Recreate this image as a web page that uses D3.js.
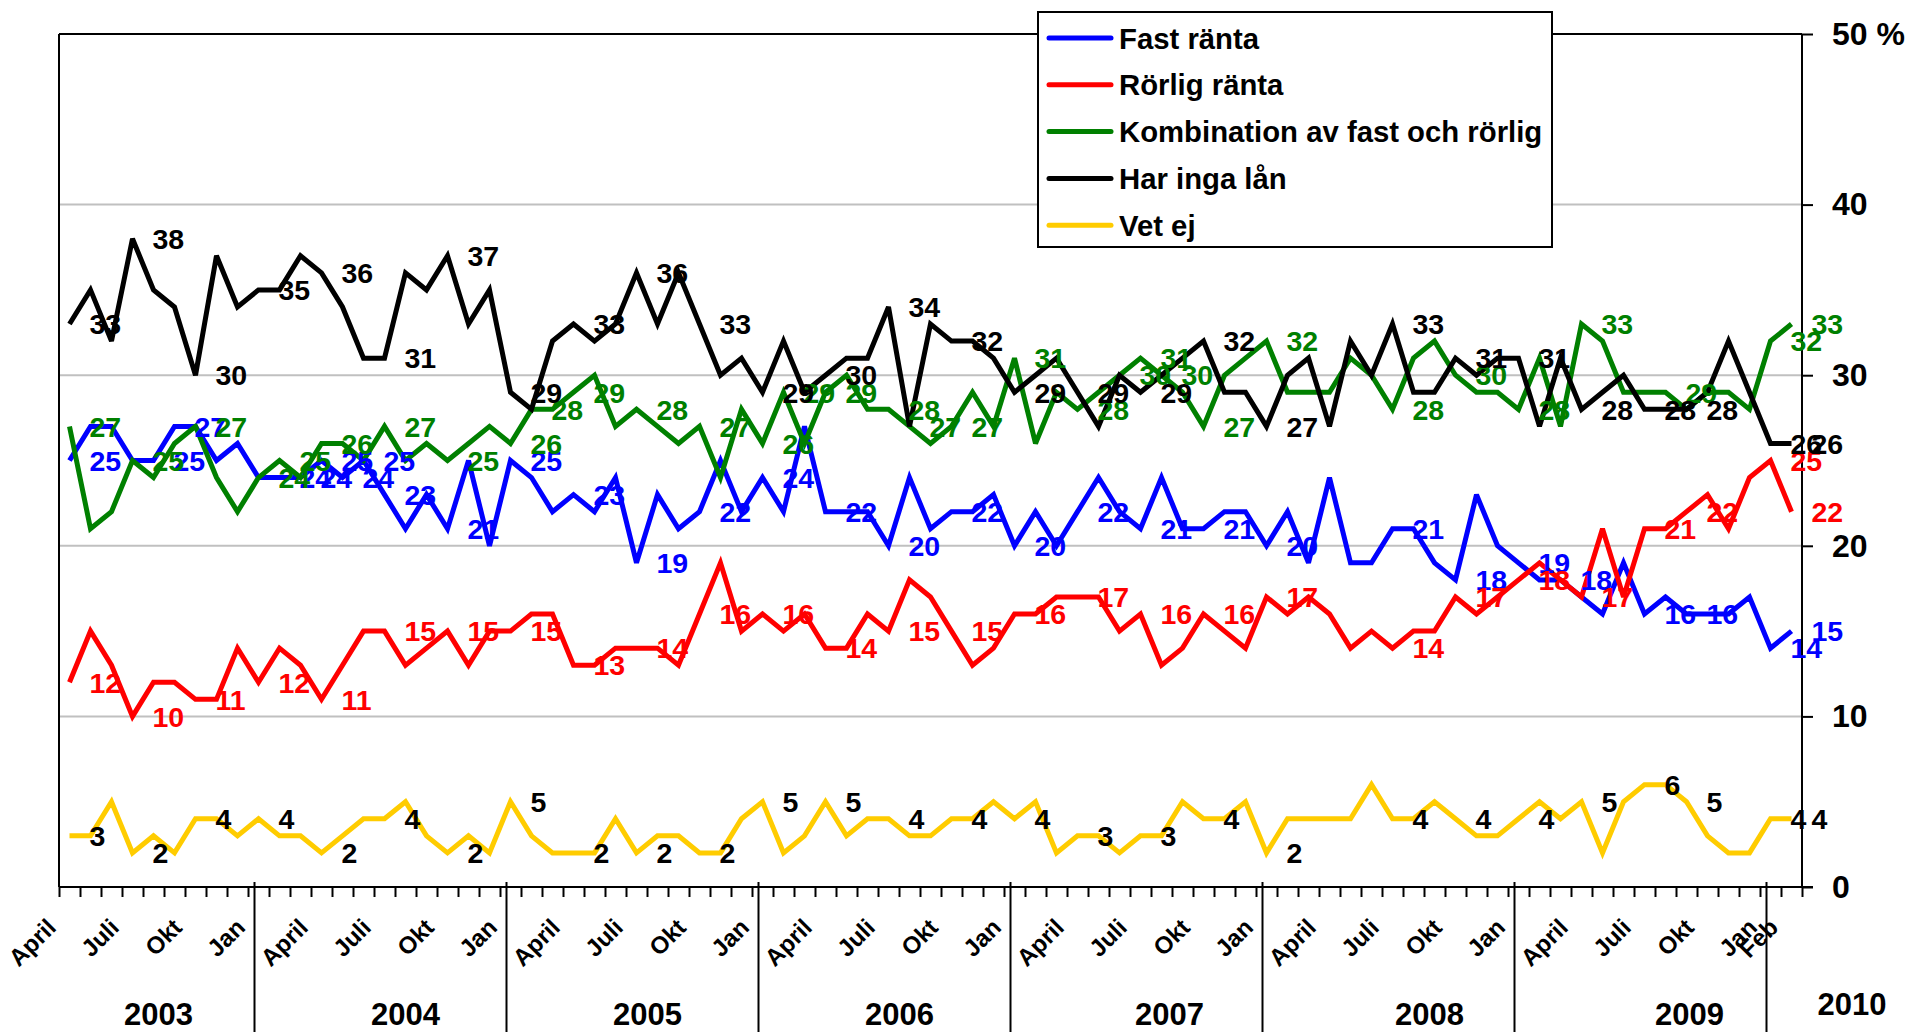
<!DOCTYPE html>
<html><head><meta charset="utf-8">
<script src="https://cdnjs.cloudflare.com/ajax/libs/d3/7.8.5/d3.min.js"></script>
<style>
body{margin:0;background:#fff;}
svg{display:block;}
text{font-family:"Liberation Sans",Arial,Helvetica,sans-serif;font-weight:bold;}
</style>
</head><body>
<svg id="chart" width="1919" height="1032"></svg>
<script>
// Categories: monthly, April 2003 .. February 2010
const months = d3.timeMonth.range(new Date(2003,3,1), new Date(2010,2,1));
const monthNames = ["Jan","Feb","Mars","April","Maj","Juni","Juli","Aug","Sep","Okt","Nov","Dec"];
const labelledMonths = ["April","Juli","Okt","Jan"];
const yearLabels = ["2003","2004","2005","2006","2007","2008","2009","2010"];
const yTicks = [0,10,20,30,40,50];

const fastRanta = [25,27,27,25,25,27,27,25,26,24, 24,24,25,24,25,23,21,23,21,25,
  20,25,24,22,23,22,24,19,23,21, 22,25,22,24,22,27,22,22,22,20,
  24,21,22,22,23,20,22,20,22,24, 22,21,24,21,21,22,22,20,22,19,
  24,19,19,21,21,19,18,23,20,19, 18,18,17,16,19,16,17,16,16,16, 17,14,15];
const rorligRanta = [12,15,13,10,12,12,11,11,14,12, 14,13,11,13,15,15,13,14,15,13,
  15,15,16,16,13,13,14,14,14,13, 16,19,15,16,15,16,14,14,16,15,
  18,17,15,13,14,16,16,17,17,17, 15,16,13,14,16,15,14,17,16,17,
  16,14,15,14,15,15,17,16,17,18, 19,18,17,21,17,21,21,22,23,21, 24,25,22];
const kombination = [27,21,22,25,24,26,27,24,22,24, 25,24,26,26,25,27,25,26,25,26,
  27,26,28,28,29,30,27,28,27,26, 27,24,28,26,29,26,29,30,28,28,
  27,26,27,29,27,31,26,29,28,29, 30,31,30,29,27,30,31,32,29,29,
  29,31,30,28,31,32,30,29,29,28, 31,27,33,32,29,29,29,28,29,29, 28,32,33];
const ingaLan = [33,35,32,38,35,34,30,37,34,35, 35,37,36,34,31,31,36,35,37,33,
  35,29,28,32,33,32,33,36,33,36, 33,30,31,29,32,29,30,31,31,34,
  27,33,32,32,31,29,30,31,29,27, 30,29,30,31,32,29,29,27,30,31,
  27,32,30,33,29,29,31,30,31,31, 27,31,28,29,30,28,28,28,29,32, 29,26,26];
const vetEj = [3,3,5,2,3,2,4,4,3,4, 3,3,2,3,4,4,5,3,2,3,
  2,5,3,2,2,2,4,2,3,3, 2,2,4,5,2,3,5,3,4,4,
  3,3,4,4,5,4,5,2,3,3, 2,3,3,5,4,4,5,2,4,4,
  4,4,6,4,4,5,4,3,3,4, 5,4,5,2,5,6,6,5,3,2, 2,4,4];

// which points carry a value label
const quarterLabels = [0,3,6,9,12,15,18,21,24,27,30,33,36,39,42,45,48,51,54,57,63,66,69,72,75,77,81,82];
const greenLabels = [0,3,6,9,10,12,15,18,21,22,24,27,30,33,34,36,39,40,42,45,48,50,51,52,54,57,63,66,69,72,76,81,82];
const blueLabels = [0,4,5,10,11,12,13,14,15,18,21,24,27,30,33,36,39,42,45,48,51,54,57,63,66,69,71,75,77,81,82];

const series = [
  {name:"Fast ränta", values:fastRanta, color:"#0000FF", labelColor:"#0000FF", labels:blueLabels},
  {name:"Rörlig ränta", values:rorligRanta, color:"#FF0000", labelColor:"#FF0000", labels:quarterLabels},
  {name:"Kombination av fast och rörlig", values:kombination, color:"#008000", labelColor:"#008000", labels:greenLabels},
  {name:"Har inga lån", values:ingaLan, color:"#000000", labelColor:"#000000", labels:quarterLabels},
  {name:"Vet ej", values:vetEj, color:"#FFCC00", labelColor:"#000000", labels:quarterLabels}
];

const L = 59, R = 1802, T = 34, B = 887;
const svg = d3.select("#chart");
const x = d3.scaleBand().domain(d3.range(months.length)).range([L, R]);
const bw = x.bandwidth();
const cx = i => x(i) + bw/2;
const edge = d3.scaleLinear().domain([0, months.length]).range([L, R]);
const y = d3.scaleLinear().domain([0, 50]).range([B, T]);

// gridlines
svg.append("g").selectAll("line").data(yTicks.filter(d => d>0 && d<50)).join("line")
  .attr("x1", L).attr("x2", R).attr("y1", d => y(d)).attr("y2", d => y(d))
  .attr("stroke", "#C0C0C0").attr("stroke-width", 2);

// plot border top / left
svg.append("line").attr("x1", L).attr("x2", R).attr("y1", y(50)).attr("y2", y(50)).attr("stroke","#000").attr("stroke-width",2);
svg.append("line").attr("x1", L).attr("x2", L).attr("y1", y(50)).attr("y2", y(0)).attr("stroke","#000").attr("stroke-width",2);

// right value axis
const ya = svg.append("g").attr("transform", `translate(${R},0)`)
  .call(d3.axisRight(y).tickValues(yTicks).tickSize(11).tickPadding(19)
    .tickFormat(d => d === 50 ? "50 %" : d));
ya.select(".domain").attr("stroke-width", 2).attr("d", `M0,${T}V${B}`);
ya.selectAll(".tick line").attr("stroke-width", 2);
ya.selectAll(".tick text").attr("font-size", 32).attr("font-family", '"Liberation Sans",Arial,sans-serif').attr("font-weight","bold").attr("fill","#000");

// bottom category axis (ticks between categories)
const xa = svg.append("g").attr("transform", `translate(0,${B})`)
  .call(d3.axisBottom(edge).tickValues(d3.range(months.length + 1)).tickSize(10).tickFormat(""));
xa.select(".domain").attr("stroke-width", 2).attr("d", `M${L},0H${R + 11}`);
xa.selectAll(".tick line").attr("stroke-width", 2);

// month labels
const monthIdx = d3.range(months.length).filter(i => labelledMonths.includes(monthNames[months[i].getMonth()]) || i === months.length - 1);
svg.append("g").selectAll("text").data(monthIdx).join("text")
  .attr("transform", i => `translate(${cx(i) - 12},${929}) rotate(-45)`)
  .attr("text-anchor", "end").attr("font-size", 24).attr("fill", "#000")
  .text(i => monthNames[months[i].getMonth()]);

// year separators at January
const janIdx = d3.range(months.length).filter(i => months[i].getMonth() === 0);
svg.append("g").selectAll("line").data(janIdx).join("line")
  .attr("x1", i => cx(i) - 4).attr("x2", i => cx(i) - 4)
  .attr("y1", B - 5).attr("y2", 1032)
  .attr("stroke", "#000").attr("stroke-width", 2);

// year labels
svg.append("g").selectAll("text").data(yearLabels).join("text")
  .attr("x", (d, k) => {
    const yr = +d;
    if (k === yearLabels.length - 1) return R + 50;
    const idx = months.findIndex(m => m.getFullYear() === yr && m.getMonth() === 7);
    return cx(idx) + (yr >= 2007 ? (yr - 2006) * 8 : 0) - (yr === 2005 || yr === 2006 ? 10 : 0) + (yr === 2003 ? 5 : 0);
  })
  .attr("y", (d, k) => k === yearLabels.length - 1 ? 1004 : 1014)
  .attr("dy", "0.35em").attr("text-anchor", "middle").attr("font-size", 31).attr("fill", "#000")
  .text(d => d);

// lines
const line = d3.line().x((d, i) => cx(i)).y(d => y(d));
svg.append("g").selectAll("path").data(series).join("path")
  .attr("d", s => line(s.values)).attr("fill", "none")
  .attr("stroke", s => s.color).attr("stroke-width", 5)
  .attr("stroke-linejoin", "miter").attr("stroke-miterlimit", 3);

// value labels
series.forEach(s => {
  svg.append("g").selectAll("text").data(s.labels).join("text")
    .attr("x", i => cx(i) + 20).attr("y", i => y(s.values[i])).attr("dy", "0.36em")
    .attr("font-size", 28.5).attr("fill", s.labelColor)
    .text(i => s.values[i]);
});

// legend
const lg = svg.append("g");
lg.append("rect").attr("x", 1038).attr("y", 12).attr("width", 514).attr("height", 235)
  .attr("fill", "#fff").attr("stroke", "#000").attr("stroke-width", 2);
const items = lg.selectAll("g").data(series).join("g")
  .attr("transform", (d, k) => `translate(1049,${38 + k * 46.8})`);
items.append("line").attr("x1", 0).attr("x2", 62).attr("y1", 0).attr("y2", 0)
  .attr("stroke", d => d.color).attr("stroke-width", 5).attr("stroke-linecap", "round");
items.append("text").attr("x", 70).attr("dy", "0.36em").attr("font-size", 29.3).attr("fill", "#000").text(d => d.name);
</script>
</body></html>
